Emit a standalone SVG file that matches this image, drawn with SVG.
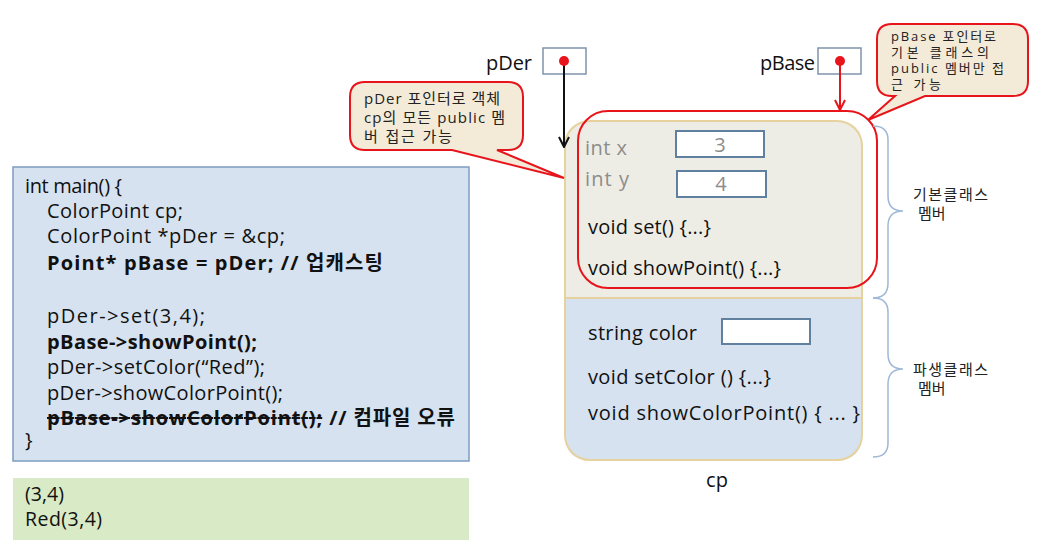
<svg xmlns="http://www.w3.org/2000/svg" width="1041" height="549" viewBox="0 0 1041 549">
<defs>
<style>
text{font-family:"Open Sans","Noto Sans CJK KR",sans-serif;fill:#111}
.code{font-size:20px}
.out{font-size:19.5px}
.b{font-weight:bold}
.gray{fill:#8c8c8c}
.call{font-size:15px;fill:#222}
.call2{font-size:13px;fill:#222}
.lbl{font-size:15px;fill:#222}
.fld{fill:#fff;stroke:#60809f;stroke-width:2}
.brace{fill:none;stroke:#9fb8d6;stroke-width:1.5}
.red{stroke:#e8141c;stroke-width:2}
</style>
<marker id="ah" viewBox="0 0 12 12" refX="11" refY="6" markerWidth="12" markerHeight="12" markerUnits="userSpaceOnUse" orient="auto"><path d="M1,1 L11,6 L1,11" fill="none" stroke="#111" stroke-width="2"/></marker>
<marker id="ahr" viewBox="0 0 12 12" refX="11" refY="6" markerWidth="12" markerHeight="12" markerUnits="userSpaceOnUse" orient="auto"><path d="M1,1 L11,6 L1,11" fill="none" stroke="#e8141c" stroke-width="2"/></marker>
</defs>
<rect width="1041" height="549" fill="#fff"/>

<g id="code">
<rect x="13" y="167" width="456" height="294" fill="#d6e2ef" stroke="#7e9cc2" stroke-width="1.5"/>
<text class="code" x="25" y="193" textLength="97" lengthAdjust="spacing">int main() {</text>
<text class="code" x="47" y="218" textLength="136" lengthAdjust="spacing">ColorPoint cp;</text>
<text class="code" x="47" y="243" textLength="238" lengthAdjust="spacing">ColorPoint *pDer = &amp;cp;</text>
<text class="code b" x="47" y="270" textLength="336" lengthAdjust="spacing">Point* pBase = pDer; // 업캐스팅</text>
<text class="code" x="47" y="323" textLength="158" lengthAdjust="spacing">pDer-&gt;set(3,4);</text>
<text class="code b" x="47" y="349" textLength="210" lengthAdjust="spacing">pBase-&gt;showPoint();</text>
<text class="code" x="47" y="374" textLength="218" lengthAdjust="spacing">pDer-&gt;setColor(“Red”);</text>
<text class="code" x="47" y="400" textLength="236" lengthAdjust="spacing">pDer-&gt;showColorPoint();</text>
<text class="code b" x="47" y="425" textLength="408" lengthAdjust="spacing"><tspan text-decoration="line-through">pBase-&gt;showColorPoint();</tspan> // 컴파일 오류</text>
<text class="code" x="25" y="447">}</text>
</g>

<g id="output">
<rect x="13" y="478" width="456" height="62" fill="#d8eac6"/>
<text class="out" x="25" y="501" textLength="39" lengthAdjust="spacing">(3,4)</text>
<text class="out" x="25" y="526" textLength="77" lengthAdjust="spacing">Red(3,4)</text>
</g>

<g id="cp">
<path d="M590,121 H837 Q862,121 862,146 V298 H565 V146 Q565,121 590,121 Z" fill="#eeede5"/>
<path d="M565,298 H862 V435 Q862,460 837,460 H590 Q565,460 565,435 Z" fill="#d6e2ef"/>
<rect x="565" y="121" width="297" height="339" rx="25" fill="none" stroke="#e6d29e" stroke-width="2"/>
<line x1="565" y1="298" x2="862" y2="298" stroke="#e6d29e" stroke-width="2"/>
<text class="code gray" x="585" y="155" textLength="42" lengthAdjust="spacing">int x</text>
<rect class="fld" x="676" y="131" width="88" height="26"/>
<text class="code gray" x="720" y="152" text-anchor="middle">3</text>
<text class="code gray" x="585" y="186" textLength="44" lengthAdjust="spacing">int y</text>
<rect class="fld" x="677" y="171" width="89" height="26"/>
<text class="code gray" x="721" y="191" text-anchor="middle">4</text>
<text class="code" x="588" y="234" textLength="123" lengthAdjust="spacing">void set() {...}</text>
<text class="code" x="588" y="275" textLength="193" lengthAdjust="spacing">void showPoint() {...}</text>
<text class="code" x="588" y="340" textLength="109" lengthAdjust="spacing">string color</text>
<rect class="fld" x="722" y="319" width="88" height="25"/>
<text class="code" x="588" y="384" textLength="183" lengthAdjust="spacing">void setColor () {...}</text>
<text class="code" x="588" y="420" textLength="272" lengthAdjust="spacing">void showColorPoint() { ... }</text>
<text class="code" x="717" y="487" text-anchor="middle">cp</text>
</g>

<g id="base-highlight">
<rect x="578" y="111" width="299" height="177" rx="30" fill="none" class="red"/>
</g>

<g id="pDer">
<text class="code" x="486" y="70" textLength="46" lengthAdjust="spacing">pDer</text>
<rect x="543" y="48" width="43" height="26" fill="#fff" stroke="#7f93ab" stroke-width="1.5"/>
</g>

<g id="pBase">
<text class="code" x="760" y="70" textLength="55" lengthAdjust="spacing">pBase</text>
<rect x="818" y="48" width="43" height="26" fill="#fff" stroke="#7f93ab" stroke-width="1.5"/>
</g>

<g id="callout1">
<path d="M365,82 H508 Q523,82 523,97 V135 Q523,150 508,150 H497 L564,178 L452,150 H365 Q350,150 350,135 V97 Q350,82 365,82 Z" fill="#f3ebd8" class="red"/>
<text class="call" x="364" y="104" textLength="136" lengthAdjust="spacing">pDer 포인터로 객체</text>
<text class="call" x="364" y="123" textLength="141" lengthAdjust="spacing">cp의 모든 public 멤</text>
<text class="call" x="364" y="142" textLength="88" lengthAdjust="spacing">버 접근 가능</text>
</g>

<g id="callout2">
<path d="M892,24 H1013 Q1028,24 1028,39 V81 Q1028,96 1013,96 H925 L868,120 L895,96 H892 Q877,96 877,81 V39 Q877,24 892,24 Z" fill="#f3ebd8" class="red"/>
<text class="call2" x="891" y="41" textLength="105" lengthAdjust="spacing">pBase 포인터로</text>
<text class="call2" x="891" y="57" textLength="98" lengthAdjust="spacing">기본 클래스의</text>
<text class="call2" x="891" y="73" textLength="113" lengthAdjust="spacing">public 멤버만 접</text>
<text class="call2" x="891" y="89" textLength="50" lengthAdjust="spacing">근 가능</text>
</g>

<g id="brace-base">
<path class="brace" d="M873,126 Q888,126 888,140 V196 Q888,211 903,211 Q888,211 888,226 V283 Q888,298 873,298"/>
<text class="lbl" x="913" y="200" textLength="75" lengthAdjust="spacing">기본클래스</text>
<text class="lbl" x="918" y="219">멤버</text>
</g>

<g id="brace-derived">
<path class="brace" d="M873,298 Q888,298 888,312 V354 Q888,369 903,369 Q888,369 888,384 V443 Q888,457 873,457"/>
<text class="lbl" x="913" y="375" textLength="75" lengthAdjust="spacing">파생클래스</text>
<text class="lbl" x="918" y="394">멤버</text>
</g>

<g id="connectors">
<line x1="564" y1="61" x2="564" y2="147" stroke="#111" stroke-width="2" marker-end="url(#ah)"/>
<line x1="840" y1="61" x2="840" y2="110" stroke="#e8141c" stroke-width="2" marker-end="url(#ahr)"/>
<circle cx="564" cy="61" r="5" fill="#e8141c"/>
<circle cx="840" cy="61" r="5" fill="#e8141c"/>
</g>
</svg>
